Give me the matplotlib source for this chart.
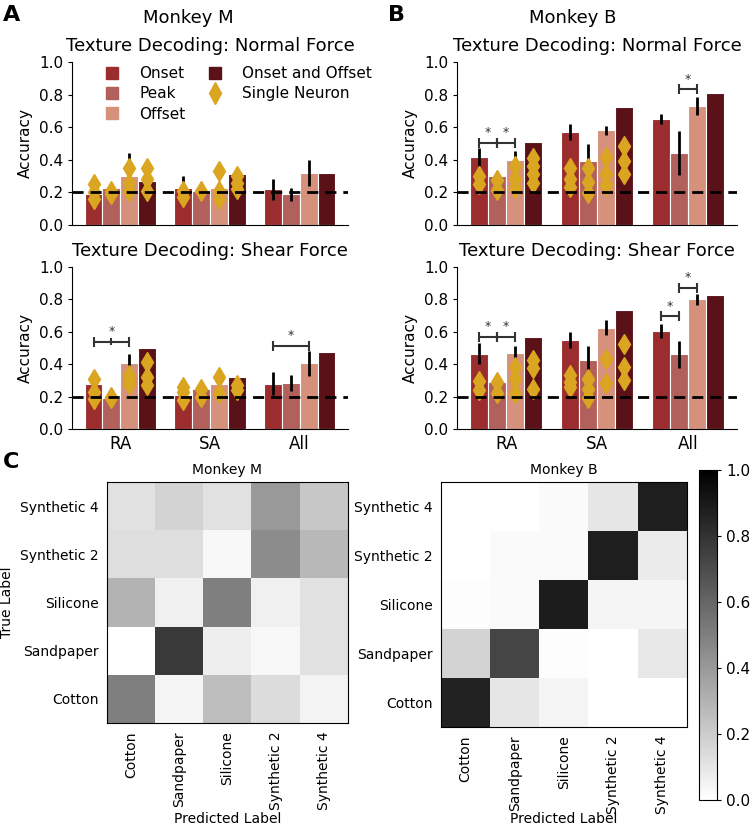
import numpy as np
import matplotlib
matplotlib.use('Agg')
import matplotlib.pyplot as plt
from matplotlib.lines import Line2D

# %%
# data
groups = ['RA', 'SA', 'All']
conditions = ['Onset', 'Peak', 'Offset', 'Onset and Offset']
bar_colors = ['#9c2d2f', '#b2605c', '#d5917b', '#5a1117']
neuron_color = '#daa520'

# accuracy per group (rows) and condition (cols)
m_normal_acc = [[0.19, 0.23, 0.30, 0.27], [0.23, 0.21, 0.23, 0.31], [0.22, 0.19, 0.32, 0.32]]
m_normal_err = [[0.02, 0.03, 0.14, np.nan], [0.07, 0.02, 0.035, np.nan], [0.065, 0.04, 0.08, np.nan]]
m_shear_acc = [[0.28, 0.19, 0.405, 0.50], [0.21, 0.245, 0.28, 0.32], [0.28, 0.285, 0.405, 0.475]]
m_shear_err = [[0.02, 0.01, 0.06, np.nan], [0.02, 0.045, 0.02, np.nan], [0.07, 0.05, 0.075, np.nan]]
b_normal_acc = [[0.42, 0.30, 0.40, 0.51], [0.57, 0.39, 0.58, 0.725], [0.65, 0.44, 0.73, 0.81]]
b_normal_err = [[0.055, 0.03, 0.055, np.nan], [0.05, 0.11, 0.03, np.nan], [0.03, 0.135, 0.055, np.nan]]
b_shear_acc = [[0.465, 0.29, 0.47, 0.57], [0.55, 0.425, 0.625, 0.735], [0.605, 0.46, 0.80, 0.83]]
b_shear_err = [[0.065, 0.02, 0.04, np.nan], [0.05, 0.09, 0.045, np.nan], [0.045, 0.085, 0.035, np.nan]]

# single neuron accuracies per group / condition
m_normal_sn = [[[0.25, 0.20, 0.16], [0.19, 0.21], [0.35, 0.26, 0.21], [0.35, 0.28, 0.21]],
               [[0.21, 0.17], [0.21], [0.33, 0.21, 0.16], [0.30, 0.26, 0.22]],
               [[], [], [], []]]
m_shear_sn = [[[0.31, 0.23, 0.185], [0.19, 0.20], [0.335, 0.30, 0.28], [0.415, 0.32, 0.27]],
              [[0.26, 0.23, 0.18], [0.245, 0.20], [0.32, 0.22], [0.27, 0.24]],
              [[], [], [], []]]
b_normal_sn = [[[0.30, 0.25], [0.275, 0.215], [0.36, 0.285, 0.225], [0.41, 0.36, 0.31, 0.255]],
               [[0.35, 0.285, 0.235], [0.35, 0.265, 0.195], [0.42, 0.315, 0.245], [0.485, 0.39, 0.315]],
               [[], [], [], []]]
b_shear_sn = [[[0.295, 0.24], [0.29, 0.22], [0.385, 0.31, 0.22], [0.425, 0.375, 0.25]],
              [[0.335, 0.29, 0.26], [0.31, 0.25, 0.19], [0.435, 0.285], [0.525, 0.385, 0.30]],
              [[], [], [], []]]

# significance brackets: (group, bar_i, bar_j, y, middle tick)
m_normal_sig = []
m_shear_sig = [(0, 0, 2, 0.54, True), (2, 0, 2, 0.515, False)]
b_normal_sig = [(0, 0, 1, 0.505, False), (0, 1, 2, 0.505, False), (2, 1, 2, 0.835, False)]
b_shear_sig = [(0, 0, 1, 0.57, False), (0, 1, 2, 0.57, False), (2, 0, 1, 0.695, False), (2, 1, 2, 0.873, False)]

chance = 0.2

textures = ['Cotton', 'Sandpaper', 'Silicone', 'Synthetic 2', 'Synthetic 4']
# rows = true label (Cotton ... Synthetic 4), cols = predicted label
cm_monkey_m = [[0.50, 0.04, 0.26, 0.14, 0.05],
               [0.00, 0.77, 0.07, 0.03, 0.12],
               [0.30, 0.06, 0.50, 0.06, 0.12],
               [0.13, 0.13, 0.03, 0.45, 0.28],
               [0.12, 0.17, 0.12, 0.40, 0.22]]
cm_monkey_b = [[0.86, 0.10, 0.04, 0.00, 0.00],
               [0.17, 0.73, 0.01, 0.00, 0.09],
               [0.01, 0.02, 0.89, 0.04, 0.04],
               [0.00, 0.02, 0.02, 0.88, 0.08],
               [0.00, 0.00, 0.02, 0.10, 0.88]]

# %%
W, H = 750, 826
fig = plt.figure(figsize=(W / 100, H / 100), dpi=100)

def px_axes(left, top, right, bottom):
    return fig.add_axes([left / W, 1 - bottom / H, (right - left) / W, (bottom - top) / H])

bar_w = 0.2
offsets = [-0.3, -0.1, 0.1, 0.3]

def plot_decoding(ax, acc, err, sn, sig, title, show_x):
    x = np.arange(len(groups))
    acc = np.array(acc)
    err = np.array(err)
    for c in range(len(conditions)):
        xc = x + offsets[c]
        ax.bar(xc, acc[:, c], width=bar_w, color=bar_colors[c], edgecolor='white', linewidth=0.8, zorder=2)
        ok = ~np.isnan(err[:, c])
        ax.vlines(xc[ok], acc[ok, c] - err[ok, c], acc[ok, c] + err[ok, c], color='black', linewidth=2, zorder=3)
        for g in range(len(groups)):
            vals = sn[g][c]
            if len(vals):
                ax.plot([xc[g]] * len(vals), vals, linestyle='none', marker='d', markersize=10,
                        color=neuron_color, zorder=4)
    ax.axhline(chance, color='black', linestyle='--', linewidth=2, dashes=(4, 2.5), zorder=5)
    for g, i, j, y, mid in sig:
        x0 = g + offsets[i]
        x1 = g + offsets[j]
        xm = (x0 + x1) / 2
        ax.errorbar(xm, y, xerr=(x1 - x0) / 2, color='#333333', linewidth=1.5, capsize=3.5,
                    capthick=1.5, zorder=5)
        if mid:
            ax.vlines(xm, y - 0.02, y + 0.02, color='#333333', linewidth=1.5, zorder=5)
        ax.text(xm, y + 0.02, '*', ha='center', va='bottom', fontsize=9, color='#333333')
    ax.set_ylim(0, 1.0)
    ax.set_yticks([0, 0.2, 0.4, 0.6, 0.8, 1.0])
    ax.set_xlim(-0.54, 2.54)
    ax.set_xticks(x)
    if show_x:
        ax.set_xticklabels(groups, fontsize=12)
    else:
        ax.set_xticklabels([])
    ax.tick_params(axis='x', length=0, pad=4)
    ax.tick_params(axis='y', labelsize=11, length=3)
    ax.set_ylabel('Accuracy', fontsize=11, labelpad=4)
    ax.set_title(title, fontsize=13, pad=8)
    ax.spines['top'].set_visible(False)
    ax.spines['right'].set_visible(False)

ax_mn = px_axes(72, 62, 348, 225)
ax_ms = px_axes(72, 267, 348, 429)
ax_bn = px_axes(457, 62, 737, 225)
ax_bs = px_axes(457, 267, 737, 429)

plot_decoding(ax_mn, m_normal_acc, m_normal_err, m_normal_sn, m_normal_sig, 'Texture Decoding: Normal Force', False)
plot_decoding(ax_ms, m_shear_acc, m_shear_err, m_shear_sn, m_shear_sig, 'Texture Decoding: Shear Force', True)
plot_decoding(ax_bn, b_normal_acc, b_normal_err, b_normal_sn, b_normal_sig, 'Texture Decoding: Normal Force', False)
plot_decoding(ax_bs, b_shear_acc, b_shear_err, b_shear_sn, b_shear_sig, 'Texture Decoding: Shear Force', True)

handles = [Line2D([], [], linestyle='none', marker='s', markersize=8, color=c) for c in bar_colors[:3]]
handles += [Line2D([], [], linestyle='none', marker='s', markersize=8, color=bar_colors[3]),
            Line2D([], [], linestyle='none', marker='d', markersize=11, color=neuron_color)]
labels = conditions[:3] + [conditions[3], 'Single Neuron']
ax_mn.legend(handles, labels, ncol=2, frameon=False, fontsize=11, loc='upper left',
             bbox_to_anchor=(0.04, 1.06), columnspacing=0.9, labelspacing=0.35, handletextpad=0.8)

fig.text(188 / W, 1 - 18 / H, 'Monkey M', ha='center', va='center', fontsize=13)
fig.text(573 / W, 1 - 18 / H, 'Monkey B', ha='center', va='center', fontsize=13)
fig.text(3 / W, 1 - 5 / H, 'A', ha='left', va='top', fontsize=16, fontweight='bold')
fig.text(388 / W, 1 - 5 / H, 'B', ha='left', va='top', fontsize=16, fontweight='bold')
fig.text(3 / W, 1 - 452 / H, 'C', ha='left', va='top', fontsize=16, fontweight='bold')

# %%
# confusion matrices
def plot_cm(ax, cm, title, ylabel):
    img = ax.imshow(np.array(cm), cmap='gray_r', vmin=0, vmax=1, origin='lower', aspect='auto')
    ax.set_xticks(np.arange(len(textures)))
    ax.set_yticks(np.arange(len(textures)))
    ax.set_xticklabels(textures, rotation=90, fontsize=10)
    ax.set_yticklabels(textures, fontsize=10)
    ax.tick_params(length=0, pad=6)
    ax.set_xlabel('Predicted Label', fontsize=10)
    # put the label top at ~812 px
    pos = ax.get_position()
    bottom_px = (1 - pos.y0) * H
    ax.xaxis.set_label_coords(0.5, -(812 - bottom_px) / (pos.height * H))
    if ylabel:
        ax.set_ylabel('True Label', fontsize=10)
    ax.set_title(title, fontsize=10, pad=6)
    return img

ax_cm_m = px_axes(107, 482, 348, 723)
ax_cm_b = px_axes(441, 482, 687, 727)
plot_cm(ax_cm_m, cm_monkey_m, 'Monkey M', True)
img = plot_cm(ax_cm_b, cm_monkey_b, 'Monkey B', False)

cax = px_axes(699, 470, 717, 800)
cbar = fig.colorbar(img, cax=cax)
cbar.set_ticks([0, 0.2, 0.4, 0.6, 0.8, 1.0])
cbar.ax.tick_params(labelsize=11, length=3)
cbar.outline.set_linewidth(0.8)

plt.savefig('out.png', dpi=100)
